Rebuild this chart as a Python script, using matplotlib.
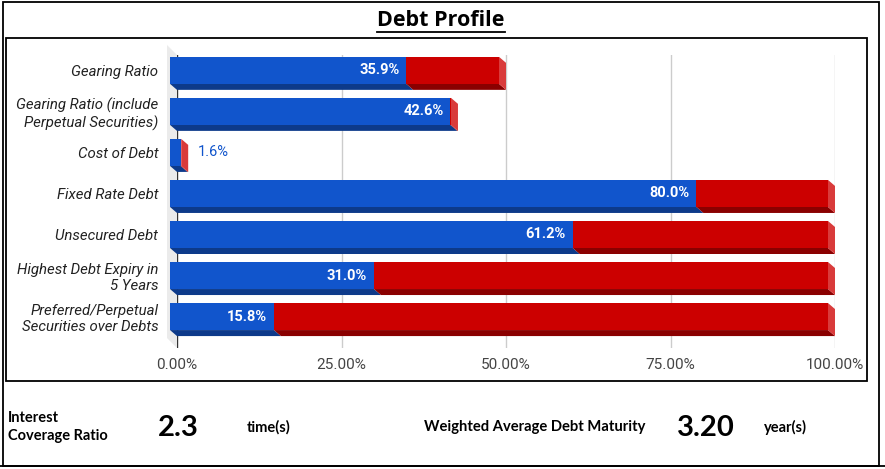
import matplotlib.pyplot as plt
from matplotlib.patches import Polygon, Rectangle
from matplotlib.lines import Line2D

categories = ["Gearing Ratio",
              "Gearing Ratio (include\nPerpetual Securities)",
              "Cost of Debt",
              "Fixed Rate Debt",
              "Unsecured Debt",
              "Highest Debt Expiry in\n5 Years",
              "Preferred/Perpetual\nSecurities over Debts"]
blue_pct = [35.9, 42.6, 1.6, 80.0, 61.2, 31.0, 15.8]
red_pct = [14.1, 0.1, 0.1, 20.0, 38.8, 69.0, 84.2]
ticks = [0, 25, 50, 75, 100]
tick_labels = ["0.00%", "25.00%", "50.00%", "75.00%", "100.00%"]
icr_value = "2.3"
wadm_value = "3.20"

W, H = 885, 469
fig = plt.figure(figsize=(W / 100, H / 100), dpi=100)


def fx(x):
    return x / W


def fy(y):
    return 1 - y / H


# chart axes, placed so the back plane lines up with the gridlines
ax = fig.add_axes([fx(177), fy(348), (835 - 177) / W, (348 - 55) / H])
ymin, ymax = -0.52, 6.62
ax.set_xlim(0, 100)
ax.set_ylim(ymax, ymin)

# fake 3d depth, in data units
dx = 7 * 100 / 658
dy = 6 / 41
bh = 27 / 41

blue = ('#1155cc', '#0d3a8a', '#3d73d6')
red = ('#cc0000', '#8a0000', '#d93b3b')

# left wall
wall_dx, wall_dy = 10 * 100 / 658, 10 / 41
ax.add_patch(Polygon([(-wall_dx, ymin - wall_dy), (0, ymin), (0, ymax),
                      (-wall_dx, ymax - wall_dy)],
                     closed=True, facecolor='#ebebeb', edgecolor='none',
                     clip_on=False, zorder=0))

for t in ticks[1:]:
    ax.axvline(t, color='#cccccc', lw=1, zorder=1)
ax.axvline(0, color='#333333', lw=1, zorder=1)

for i, (b, r) in enumerate(zip(blue_pct, red_pct)):
    top, bot = i - bh / 2, i + bh / 2
    segs = [(0, b, blue), (b, b + r, red)]
    for a, e, col in segs:
        ax.add_patch(Polygon([(a - dx, bot - dy), (e - dx, bot - dy), (e, bot), (a, bot)],
                             closed=True, facecolor=col[1], edgecolor='none',
                             clip_on=False, zorder=2))
        ax.add_patch(Polygon([(a - dx, top - dy), (e - dx, top - dy),
                              (e - dx, bot - dy), (a - dx, bot - dy)],
                             closed=True, facecolor=col[0], edgecolor='none',
                             clip_on=False, zorder=3))
    e = b + r
    ax.add_patch(Polygon([(e - dx, top - dy), (e, top), (e, bot), (e - dx, bot - dy)],
                         closed=True, facecolor=red[2], edgecolor='none',
                         clip_on=False, zorder=3))
    if b > 10:
        ax.annotate(f"{b:.1f}%", (b - dx, i - dy), xytext=(-5, 0),
                    textcoords='offset points', ha='right', va='center',
                    color='white', fontsize=10.5, fontweight='bold',
                    family='Roboto', zorder=5)
    else:
        ax.annotate(f"{b:.1f}%", (e, i - dy), xytext=(7, 0),
                    textcoords='offset points', ha='left', va='center',
                    color='#1155cc', fontsize=10.5, family='Roboto', zorder=5)

ax.set_xticks(ticks, tick_labels)
ax.set_yticks([i - dy for i in range(len(categories))], categories)
ax.tick_params(axis='x', length=0, pad=7.5, labelsize=11, labelcolor='#444444')
ax.tick_params(axis='y', length=0, pad=13.5, labelsize=10.8, labelcolor='#222222')
for lab in ax.get_xticklabels():
    lab.set_family('Roboto')
for lab in ax.get_yticklabels():
    lab.set_family('Roboto')
    lab.set_style('italic')
for s in ax.spines.values():
    s.set_visible(False)

# frames
fig.add_artist(Rectangle((fx(3), fy(466)), (879 - 3) / W, (466 - 2) / H,
                         transform=fig.transFigure, fill=False,
                         edgecolor='black', lw=1.3))
fig.add_artist(Rectangle((fx(6), fy(381)), (867 - 6) / W, (381 - 38) / H,
                         transform=fig.transFigure, fill=False,
                         edgecolor='black', lw=1.3))
fig.add_artist(Line2D([0, 1], [fy(466), fy(466)], transform=fig.transFigure,
                      color='black', lw=1.3))

# title with underline
title = fig.text(fx(441), fy(20), "Debt Profile", ha='center', va='center',
                 fontsize=15.5, fontweight='bold', family='Open Sans')
fig.canvas.draw()
bb = title.get_window_extent()
fig.add_artist(Line2D([bb.x0 / W, bb.x1 / W], [fy(32), fy(32)],
                      transform=fig.transFigure, color='black', lw=1.3))

# key figures under the chart
kw = dict(fontweight='bold', family='Lato', color='black', va='center')
fig.text(fx(8), fy(427), "Interest\nCoverage Ratio", ha='left', fontsize=10.5,
         linespacing=1.45, **kw)
fig.text(fx(178), fy(428), icr_value, ha='center', fontsize=21, **kw)
fig.text(fx(247), fy(427), "time(s)", ha='left', fontsize=10.5, **kw)
fig.text(fx(424), fy(427), "Weighted Average Debt Maturity", ha='left',
         fontsize=10.6, **kw)
fig.text(fx(706), fy(428), wadm_value, ha='center', fontsize=21, **kw)
fig.text(fx(764), fy(427), "year(s)", ha='left', fontsize=10.5, **kw)

fig.savefig('out.png', dpi=100)
